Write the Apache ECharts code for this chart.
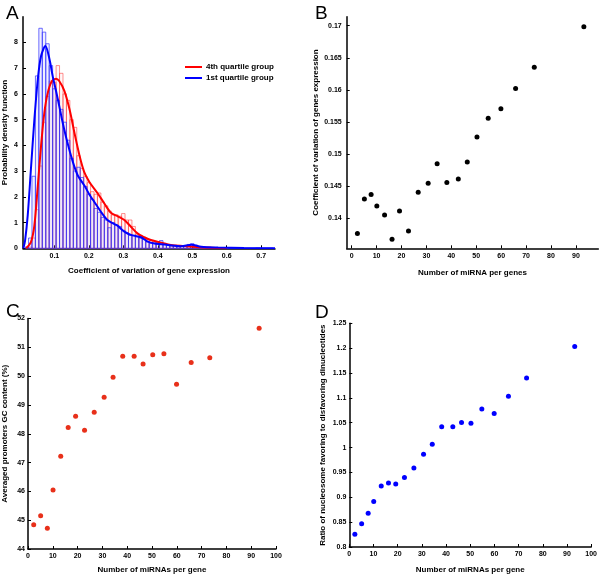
<!DOCTYPE html>
<html>
<head>
<meta charset="utf-8">
<script src="https://cdn.jsdelivr.net/npm/echarts@6/dist/echarts.min.js"></script>
<style>html,body{margin:0;padding:0;background:#fff;}#c{width:600px;height:575px;}</style>
</head>
<body>
<div id="c"></div>
<script>
// ---------- Panel A data ----------
var BIN_W = 0.01;
var binCenters = [0.01,0.02,0.03,0.04,0.05,0.06,0.07,0.08,0.09,0.10,0.11,0.12,0.13,0.14,0.15,0.16,0.17,0.18,0.19,0.20,
  0.21,0.22,0.23,0.24,0.25,0.26,0.27,0.28,0.29,0.30,0.31,0.32,0.33,0.34,0.35,0.36,0.37,0.38,0.39,0.40,
  0.41,0.42,0.43,0.44,0.45,0.46,0.47,0.48,0.49,0.50,0.51,0.52,0.53,0.54,0.55,0.56,0.57,0.58,0.59,0.60,
  0.61,0.62,0.63,0.64,0.65,0.66,0.67,0.68,0.69,0.70,0.71,0.72,0.73];
var hist1st = [0,0.05,0.4,2.8,6.7,8.55,8.4,7.95,7.1,6.2,5.75,5.4,4.9,4.2,3.5,3.0,3.15,2.75,2.4,2.1,
  1.9,1.55,1.4,1.2,1.1,0.8,1.0,0.9,0.85,0.7,0.6,0.5,0.5,0.45,0.4,0.35,0.25,0.2,0.2,0.25,
  0.3,0.15,0.12,0.1,0.1,0.08,0.1,0.1,0.15,0.18,0.12,0.06,0.05,0.04,0.04,0.03,0.02,0.03,0.02,0.02,
  0.02,0.01,0.01,0.02,0.01,0.01,0.01,0.01,0.02,0.01,0.01,0.01,0.01];
var hist4th = [0,0,0.05,0.4,1.5,3.2,4.9,5.9,6.5,6.45,7.1,6.8,6.0,5.75,5.0,4.7,3.6,3.1,2.8,2.55,
  2.2,2.1,2.15,1.8,1.65,1.45,1.3,1.3,1.25,1.35,1.1,1.1,0.85,0.55,0.5,0.4,0.35,0.3,0.25,0.25,
  0.2,0.2,0.15,0.12,0.12,0.1,0.1,0.08,0.08,0.08,0.06,0.05,0.05,0.04,0.04,0.03,0.03,0.02,0.02,0.01,
  0,0,0,0,0,0,0,0,0,0,0,0,0];
var kde1stX = [0.010,0.015,0.0227,0.032,0.042,0.052,0.0614,0.074,0.086,0.095,0.105,0.114,0.124,0.139,0.154,0.168,0.187,0.202,0.216,0.235,0.254,0.274,0.283,0.303,0.322,0.351,0.371,0.39,0.43,0.468,0.497,0.526,0.575,0.65,0.74];
var kde1stY = [0,0.3,1.28,3.08,5.0,6.57,7.47,7.86,7.34,6.7,6.1,5.54,4.89,4.05,3.34,2.83,2.44,2.08,1.8,1.42,1.1,0.94,0.88,0.65,0.52,0.43,0.26,0.19,0.13,0.08,0.14,0.06,0.03,0.01,0];
var kde4thX = [0.018,0.032,0.042,0.052,0.0614,0.071,0.081,0.093,0.105,0.114,0.129,0.144,0.158,0.173,0.187,0.202,0.226,0.245,0.264,0.283,0.303,0.322,0.341,0.361,0.38,0.41,0.438,0.477,0.525,0.575,0.6];
var kde4thY = [0,0.24,0.89,2.44,3.99,5.28,6.05,6.5,6.59,6.5,6.12,5.4,4.5,3.6,2.95,2.57,2.13,1.74,1.38,1.25,1.1,0.84,0.58,0.43,0.32,0.22,0.13,0.09,0.04,0.01,0];
var legendNames = ['4th quartile group', '1st quartile group'];

// ---------- Panels B, C, D data ----------
var miRNAcount = [2.3,5.1,7.8,10.1,13.2,16.2,19.2,22.8,26.7,30.7,34.3,38.2,42.8,46.4,50.3,54.8,59.9,65.8,73.3,93.2];
var cvExpr = [0.1376,0.1430,0.1437,0.1419,0.1405,0.1367,0.1411,0.1380,0.14405,0.14545,0.14846,0.14555,0.14612,0.14877,0.15266,0.15557,0.15707,0.16019,0.16351,0.16984];
var gcContent = [44.84,45.15,44.72,46.05,47.22,48.22,48.61,48.12,48.75,49.27,49.96,50.69,50.69,50.42,50.74,50.78,49.72,50.47,50.64,51.66];
var nucRatio = [0.8254,0.8467,0.868,0.8913,0.9227,0.9287,0.9267,0.94,0.9587,0.9867,1.0067,1.042,1.042,1.0506,1.0487,1.0774,1.0686,1.1034,1.14,1.2034];

function zip(a, b) { return a.map(function (v, i) { return [v, b[i]]; }); }

var FONT = '"Liberation Sans", Arial, Helvetica, sans-serif';
var tickLbl = { fontSize: 7, fontWeight: 'bold', color: '#000', fontFamily: FONT };
var nameSt = { fontSize: 8, fontWeight: 'bold', color: '#000', fontFamily: FONT };

function axisBase(extra) {
  var o = {
    type: 'value',
    axisLine: { show: true, onZero: false, lineStyle: { color: '#000', width: 1.5 } },
    axisTick: { show: true, inside: true, length: 3, lineStyle: { color: '#000', width: 1 } },
    splitLine: { show: false },
    axisLabel: Object.assign({}, tickLbl),
    nameLocation: 'middle',
    nameTextStyle: nameSt
  };
  for (var k in extra) {
    if (k === 'axisLabel') Object.assign(o.axisLabel, extra[k]);
    else o[k] = extra[k];
  }
  return o;
}

function histItem(color, fill) {
  return function (params, api) {
    var c = api.value(0), h = api.value(1);
    if (!(h > 0)) return null;
    var p0 = api.coord([c - BIN_W / 2, h]);
    var p1 = api.coord([c + BIN_W / 2, 0]);
    return {
      type: 'rect',
      shape: { x: p0[0], y: p0[1], width: p1[0] - p0[0], height: p1[1] - p0[1] },
      style: { fill: fill, stroke: color, lineWidth: 1 }
    };
  };
}

var chart = echarts.init(document.getElementById('c'), null, { renderer: 'canvas' });
var titleSt = { fontSize: 19, fontWeight: 'normal', color: '#000', fontFamily: FONT };
var option = {
  animation: false,
  backgroundColor: '#fff',
  title: [
    { text: 'A', left: 1, top: -1, textStyle: titleSt },
    { text: 'B', left: 310, top: -1, textStyle: titleSt },
    { text: 'C', left: 1, top: 297, textStyle: titleSt },
    { text: 'D', left: 310, top: 298, textStyle: titleSt }
  ],
  legend: {
    orient: 'vertical', left: 185, top: 63, padding: 0, itemWidth: 17, itemHeight: 2, itemGap: 3,
    icon: 'rect', data: legendNames,
    textStyle: { fontSize: 8, fontWeight: 'bold', color: '#000', fontFamily: FONT, padding: [0, 0, 0, -1] }
  },
  grid: [
    { left: 22, top: 16.7, width: 253, height: 231.6 },
    { left: 346.7, top: 16.7, width: 251.6, height: 231.6 },
    { left: 27.5, top: 318.5, width: 248.5, height: 230.8 },
    { left: 349.3, top: 323.3, width: 243.4, height: 224.4 }
  ],
  xAxis: [
    axisBase({ gridIndex: 0, min: 0.009, max: 0.74, minInterval: 0.1, maxInterval: 0.1, name: 'Coefficient of variation of gene expression', nameGap: 18, axisLabel: { margin: 4, showMinLabel: false, showMaxLabel: false } }),
    axisBase({ gridIndex: 1, min: -2, max: 99, minInterval: 10, maxInterval: 10, name: 'Number of miRNA per genes', nameGap: 20, axisLabel: { margin: 4, showMinLabel: false, showMaxLabel: false } }),
    axisBase({ gridIndex: 2, min: 0, max: 100, interval: 10, name: 'Number of miRNAs per gene', nameGap: 17, axisLabel: { margin: 4 } }),
    axisBase({ gridIndex: 3, min: 0, max: 100, interval: 10, name: 'Number of miRNAs per gene', nameGap: 19, axisLabel: { margin: 4 } })
  ],
  yAxis: [
    axisBase({ gridIndex: 0, min: 0, max: 9, interval: 1, name: 'Probability density function', nameGap: 14, axisLabel: { margin: 5, showMaxLabel: false } }),
    axisBase({ gridIndex: 1, min: 0.1353, max: 0.1714, minInterval: 0.005, maxInterval: 0.005, name: 'Coefficient of variation of genes expression', nameGap: 22, axisLabel: { margin: 5, showMinLabel: false, showMaxLabel: false } }),
    axisBase({ gridIndex: 2, min: 44, max: 52, interval: 1, name: 'Averaged promoters GC content (%)', nameGap: 19, axisLabel: { margin: 3 } }),
    axisBase({ gridIndex: 3, min: 0.8, max: 1.25, interval: 0.05, name: 'Ratio of nucleosome favoring to disfavoring dinucleotides', nameGap: 23, axisLabel: { margin: 3 } })
  ],
  series: [
    { type: 'custom', xAxisIndex: 0, yAxisIndex: 0, renderItem: histItem('rgba(255,70,70,0.6)', 'rgba(255,150,150,0.08)'), data: zip(binCenters, hist4th), z: 1 },
    { type: 'custom', xAxisIndex: 0, yAxisIndex: 0, renderItem: histItem('rgba(50,50,255,0.7)', 'rgba(150,150,255,0.15)'), data: zip(binCenters, hist1st), z: 2 },
    { type: 'line', name: legendNames[0], xAxisIndex: 0, yAxisIndex: 0, data: zip(kde4thX, kde4thY), smooth: 0.3, showSymbol: false, symbol: 'none', lineStyle: { color: '#ff0000', width: 2 }, itemStyle: { color: '#ff0000' }, z: 5 },
    { type: 'line', name: legendNames[1], xAxisIndex: 0, yAxisIndex: 0, data: zip(kde1stX, kde1stY), smooth: 0.3, showSymbol: false, symbol: 'none', lineStyle: { color: '#0000ff', width: 2 }, itemStyle: { color: '#0000ff' }, z: 6 },
    { type: 'scatter', xAxisIndex: 1, yAxisIndex: 1, data: zip(miRNAcount, cvExpr), symbolSize: 5, itemStyle: { color: '#000', opacity: 1 } },
    { type: 'scatter', xAxisIndex: 2, yAxisIndex: 2, data: zip(miRNAcount, gcContent), symbolSize: 5, itemStyle: { color: '#e8301a', opacity: 1 } },
    { type: 'scatter', xAxisIndex: 3, yAxisIndex: 3, data: zip(miRNAcount, nucRatio), symbolSize: 5, itemStyle: { color: '#0000ff', opacity: 1 } }
  ]
};
chart.setOption(option);
</script>
</body>
</html>
